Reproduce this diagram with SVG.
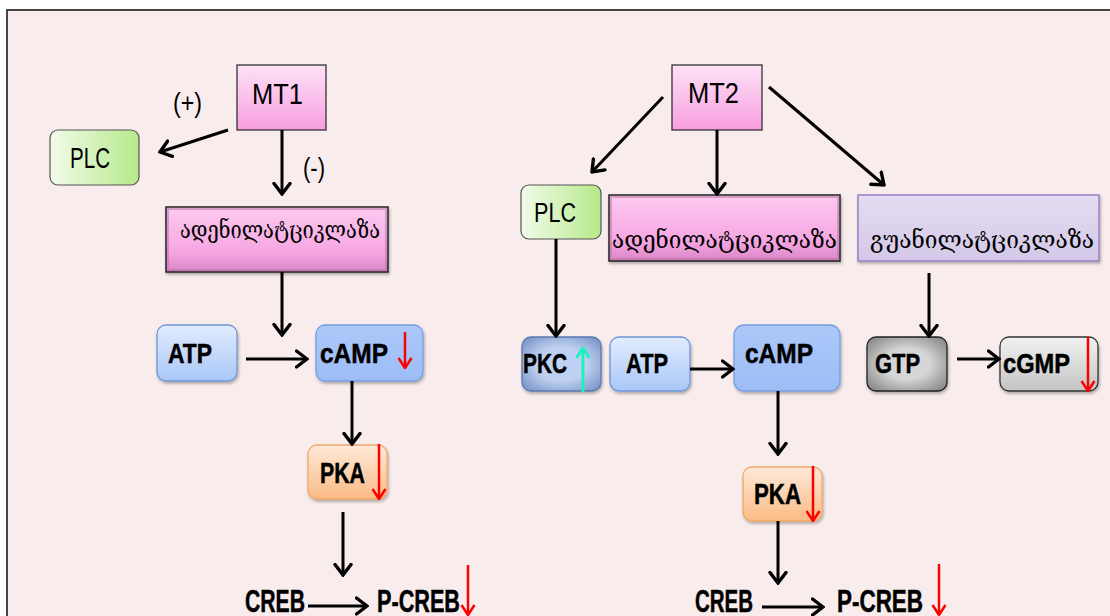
<svg xmlns="http://www.w3.org/2000/svg" width="1110" height="616" viewBox="0 0 1110 616">
<style>
.lat{font-family:"Liberation Sans",Arial,sans-serif;fill:#000}
.b{font-weight:bold;stroke:#000;stroke-width:0.5}
.geo{font-family:"DejaVu Serif","DejaVu Sans",serif;fill:#000}
.conn{stroke:#000;stroke-width:3;fill:none;marker-end:url(#ah)}
.red{stroke:#f00;stroke-width:2.5;fill:none;marker-end:url(#rh)}
.cyan{stroke:#1ef0c0;stroke-width:3;fill:none;marker-end:url(#ch)}
</style>
<defs>
<marker id="ah" markerUnits="userSpaceOnUse" markerWidth="14" markerHeight="20" viewBox="0 0 14 20" refX="12" refY="10" orient="auto">
<path d="M1.5,2 L12,10 L1.5,18" fill="none" stroke="#000" stroke-width="3.4" stroke-linecap="round" stroke-linejoin="miter"/>
</marker>
<marker id="rh" markerUnits="userSpaceOnUse" markerWidth="12" markerHeight="16" viewBox="0 0 12 16" refX="11" refY="8" orient="auto">
<path d="M1,1.5 L11,8 L1,14.5" fill="none" stroke="#f00" stroke-width="2.5"/>
</marker>
<marker id="ch" markerUnits="userSpaceOnUse" markerWidth="12" markerHeight="16" viewBox="0 0 12 16" refX="11" refY="8" orient="auto">
<path d="M1,1.5 L11,8 L1,14.5" fill="none" stroke="#1ef0c0" stroke-width="3"/>
</marker>
<linearGradient id="gMT" x1="0" y1="0" x2="0" y2="1"><stop offset="0" stop-color="#fde2f6"/><stop offset="1" stop-color="#f89ee0"/></linearGradient>
<linearGradient id="gAC" x1="0" y1="0" x2="0" y2="1"><stop offset="0" stop-color="#fccaf0"/><stop offset="0.7" stop-color="#f6a6e2"/><stop offset="1" stop-color="#d986c6"/></linearGradient>
<linearGradient id="gGC" x1="0" y1="0" x2="0" y2="1"><stop offset="0" stop-color="#e4dcf2"/><stop offset="1" stop-color="#d4c8e8"/></linearGradient>
<linearGradient id="gPLC" x1="0" y1="0" x2="1" y2="0"><stop offset="0" stop-color="#f2fbea"/><stop offset="1" stop-color="#b6e98a"/></linearGradient>
<linearGradient id="gATP" x1="0" y1="0" x2="0" y2="1"><stop offset="0" stop-color="#e2ecfd"/><stop offset="1" stop-color="#a9c7f8"/></linearGradient>
<linearGradient id="gCAMP" x1="0" y1="0" x2="0" y2="1"><stop offset="0" stop-color="#abc8f9"/><stop offset="1" stop-color="#9dbdf5"/></linearGradient>
<linearGradient id="gPKA" x1="0" y1="0" x2="0" y2="1"><stop offset="0" stop-color="#fee9d8"/><stop offset="1" stop-color="#fbbb86"/></linearGradient>
<radialGradient id="gPKC" cx="0.5" cy="0.5" r="0.7"><stop offset="0.45" stop-color="#bfd1f2"/><stop offset="1" stop-color="#6f8cc0"/></radialGradient>
<radialGradient id="gGTP" cx="0.5" cy="0.5" r="0.7"><stop offset="0.4" stop-color="#d6d6d6"/><stop offset="1" stop-color="#7c7c7c"/></radialGradient>
<linearGradient id="gCGMP" x1="0" y1="0" x2="0" y2="1"><stop offset="0" stop-color="#f2f2f2"/><stop offset="1" stop-color="#c4c4c4"/></linearGradient>
<filter id="sh" x="-10%" y="-10%" width="125%" height="135%"><feDropShadow dx="1" dy="2" stdDeviation="1.5" flood-color="#000" flood-opacity="0.3"/></filter>
</defs>
<rect x="0" y="0" width="1110" height="616" fill="#fff"/>
<rect x="7" y="10" width="1115" height="620" fill="#f8ecec" stroke="#444" stroke-width="2"/>

<g id="mt1"><rect x="237" y="65" width="89" height="65" fill="url(#gMT)" stroke="#333" stroke-width="1.3"/><text class="lat" x="252" y="104" font-size="30" textLength="51" lengthAdjust="spacingAndGlyphs">MT1</text></g>
<g id="plus"><text class="lat" x="173" y="112" font-size="27" textLength="29" lengthAdjust="spacingAndGlyphs">(+)</text></g>
<g id="minus"><text class="lat" x="303" y="177" font-size="27" textLength="22" lengthAdjust="spacingAndGlyphs">(-)</text></g>
<g id="plc1"><rect x="50" y="130" width="89" height="55" rx="8" fill="url(#gPLC)" stroke="#555" stroke-width="1.2"/><text class="lat" x="70" y="168" font-size="29" textLength="40" lengthAdjust="spacingAndGlyphs">PLC</text></g>
<g id="ac1"><rect x="166" y="207" width="222" height="65" fill="url(#gAC)" stroke="#222" stroke-width="1.5" filter="url(#sh)"/><rect x="168" y="209" width="218" height="61" fill="none" stroke="#b070a0" stroke-width="2" opacity="0.5"/><text class="geo" x="180" y="238" font-size="24" textLength="200" lengthAdjust="spacingAndGlyphs">ადენილატციკლაზა</text></g>
<g id="atp1"><rect x="157" y="325" width="80" height="56" rx="9" fill="url(#gATP)" stroke="#6f96d6" stroke-width="1.3" filter="url(#sh)"/><text class="lat b" x="168" y="363" font-size="28" textLength="44" lengthAdjust="spacingAndGlyphs">ATP</text></g>
<g id="camp1"><rect x="316" y="325" width="107" height="56" rx="9" fill="url(#gCAMP)" stroke="#789ee0" stroke-width="1.3" filter="url(#sh)"/><text class="lat b" x="320" y="363" font-size="28" textLength="68" lengthAdjust="spacingAndGlyphs">cAMP</text><path class="red" d="M405,332 L405,368"/></g>
<g id="pka1"><rect x="308" y="445" width="79" height="54" rx="9" fill="url(#gPKA)" stroke="#f1a868" stroke-width="1.3" filter="url(#sh)"/><text class="lat b" x="320" y="483" font-size="29" textLength="45" lengthAdjust="spacingAndGlyphs">PKA</text><path class="red" d="M379,444 L379,499"/></g>
<g id="creb1"><text class="lat b" x="245" y="612" font-size="31" textLength="60" lengthAdjust="spacingAndGlyphs">CREB</text></g>
<g id="pcreb1"><text class="lat b" x="377" y="612" font-size="31" textLength="83" lengthAdjust="spacingAndGlyphs">P-CREB</text><path class="red" d="M468,565 L468,615"/></g>

<g id="mt2"><rect x="672" y="65" width="90" height="65" fill="url(#gMT)" stroke="#333" stroke-width="1.3"/><text class="lat" x="688" y="103" font-size="30" textLength="51" lengthAdjust="spacingAndGlyphs">MT2</text></g>
<g id="plc2"><rect x="521" y="185" width="80" height="54" rx="8" fill="url(#gPLC)" stroke="#555" stroke-width="1.2"/><text class="lat" x="534" y="222" font-size="27" textLength="42" lengthAdjust="spacingAndGlyphs">PLC</text></g>
<g id="ac2"><rect x="609" y="195" width="231" height="66" fill="url(#gAC)" stroke="#222" stroke-width="1.5" filter="url(#sh)"/><rect x="611" y="197" width="227" height="62" fill="none" stroke="#b070a0" stroke-width="2" opacity="0.5"/><text class="geo" x="612" y="248" font-size="25" textLength="225" lengthAdjust="spacingAndGlyphs">ადენილატციკლაზა</text></g>
<g id="gc"><rect x="858" y="195" width="241" height="66" fill="url(#gGC)" stroke="#9a80c2" stroke-width="1.5" filter="url(#sh)"/><text class="geo" x="870" y="248" font-size="25" textLength="224" lengthAdjust="spacingAndGlyphs">გუანილატციკლაზა</text></g>
<g id="pkc"><rect x="522" y="337" width="79" height="54" rx="9" fill="url(#gPKC)" stroke="#5a78b0" stroke-width="1.3" filter="url(#sh)"/><text class="lat b" x="523" y="373" font-size="28" textLength="44" lengthAdjust="spacingAndGlyphs">PKC</text><path class="cyan" d="M583,392 L583,348"/></g>
<g id="atp2"><rect x="610" y="337" width="80" height="54" rx="9" fill="url(#gATP)" stroke="#6f96d6" stroke-width="1.3" filter="url(#sh)"/><text class="lat b" x="626" y="373" font-size="28" textLength="42" lengthAdjust="spacingAndGlyphs">ATP</text></g>
<g id="camp2"><rect x="734" y="325" width="106" height="66" rx="10" fill="url(#gCAMP)" stroke="#789ee0" stroke-width="1.3" filter="url(#sh)"/><text class="lat b" x="745" y="363" font-size="28" textLength="68" lengthAdjust="spacingAndGlyphs">cAMP</text></g>
<g id="pka2"><rect x="743" y="467" width="79" height="54" rx="9" fill="url(#gPKA)" stroke="#f1a868" stroke-width="1.3" filter="url(#sh)"/><text class="lat b" x="754" y="504" font-size="29" textLength="47" lengthAdjust="spacingAndGlyphs">PKA</text><path class="red" d="M813,466 L813,521"/></g>
<g id="gtp"><rect x="867" y="337" width="80" height="54" rx="9" fill="url(#gGTP)" stroke="#222" stroke-width="1.3" filter="url(#sh)"/><text class="lat b" x="875" y="373" font-size="28" textLength="45" lengthAdjust="spacingAndGlyphs">GTP</text></g>
<g id="cgmp"><rect x="1000" y="337" width="98" height="54" rx="9" fill="url(#gCGMP)" stroke="#333" stroke-width="1.3" filter="url(#sh)"/><text class="lat b" x="1003" y="373" font-size="28" textLength="67" lengthAdjust="spacingAndGlyphs">cGMP</text><path class="red" d="M1088,337 L1088,391"/></g>
<g id="creb2"><text class="lat b" x="695" y="612" font-size="31" textLength="58" lengthAdjust="spacingAndGlyphs">CREB</text></g>
<g id="pcreb2"><text class="lat b" x="837" y="612" font-size="31" textLength="86" lengthAdjust="spacingAndGlyphs">P-CREB</text><path class="red" d="M939,564 L939,615"/></g>

<g id="connectors">
<path class="conn" d="M228,130 L160,152"/>
<path class="conn" d="M282,130 L282,194"/>
<path class="conn" d="M282,272 L282,335"/>
<path class="conn" d="M246,359 L307,359"/>
<path class="conn" d="M352,381 L352,444"/>
<path class="conn" d="M343,512 L343,575"/>
<path class="conn" d="M308,606 L367,606"/>
<path class="conn" d="M663,97 L592,172"/>
<path class="conn" d="M717,130 L717,194"/>
<path class="conn" d="M769,87 L884,185"/>
<path class="conn" d="M556,239 L556,336"/>
<path class="conn" d="M929,273 L929,336"/>
<path class="conn" d="M690,369 L733,369"/>
<path class="conn" d="M778,391 L778,454"/>
<path class="conn" d="M778,521 L778,583"/>
<path class="conn" d="M762,607 L823,607"/>
<path class="conn" d="M957,359 L999,359"/>
</g>
</svg>
